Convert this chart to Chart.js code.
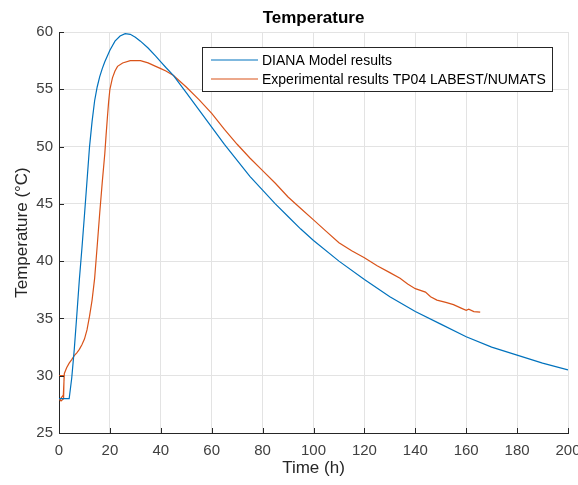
<!DOCTYPE html>
<html>
<head>
<meta charset="utf-8">
<script src="https://cdn.jsdelivr.net/npm/chart.js@4.4.1/dist/chart.umd.min.js"></script>
<style>
  html, body { margin: 0; padding: 0; background: #fff; }
</style>
</head>
<body>
<canvas id="tempChart" width="578" height="485"></canvas>
<script>
const chartTitle = 'Temperature';
const xLabel = 'Time (h)';
const yLabel = 'Temperature (°C)';
const seriesNames = ['DIANA Model results', 'Experimental results TP04 LABEST/NUMATS'];
const seriesColors = ['#0072BD', '#D95319'];
const xTicks = [0, 20, 40, 60, 80, 100, 120, 140, 160, 180, 200];
const yTicks = [25, 30, 35, 40, 45, 50, 55, 60];

// DIANA model
const modelTime = [0, 4, 5, 6, 7, 8, 9, 10, 11, 12, 13, 14, 15, 16, 17, 18, 20, 22, 24, 26, 28, 30, 32, 35, 38, 40, 42, 45,
  50, 55, 60, 65, 70, 75, 80, 85, 90, 95, 100, 110, 120, 130, 140, 150, 160, 170, 180, 190, 200];
const modelTemp = [28, 28, 29.8, 32.3, 35.3, 38.4, 41.1, 44.0, 47.0, 50.0, 52.2, 54.0, 55.2, 56.1, 56.8, 57.4, 58.4, 59.2, 59.65, 59.85, 59.8, 59.55, 59.2, 58.6, 57.9, 57.4, 56.9, 56.2,
  54.7, 53.2, 51.7, 50.2, 48.8, 47.4, 46.2, 45.0, 43.9, 42.8, 41.8, 40.0, 38.4, 36.9, 35.6, 34.5, 33.4, 32.5, 31.8, 31.1, 30.5];

// experimental TP04
const expTime = [0, 2, 1.8, 0.8, 0.3, 1.0, 1.7, 2.1, 3, 4, 5, 6, 7, 8, 9, 10, 11, 12, 13, 14, 15, 16, 17, 18, 18.5, 19, 19.5, 20, 21, 22, 23, 25, 28, 32, 35, 38, 40, 42, 45,
  50, 55, 60, 65, 70, 75, 80, 85, 90, 95, 100, 105, 110, 115, 120, 125, 130, 134, 137, 140, 144, 146, 148.5, 152, 155, 158, 160, 161, 163, 165.5];
const expTemp = [30, 30, 28.0, 27.8, 27.9, 28.1, 28.3, 30.2, 30.7, 31.1, 31.4, 31.75, 32.0, 32.3, 32.7, 33.2, 34.0, 35.2, 36.6, 38.5, 41.3, 44.2, 46.9, 49.4, 51.0, 52.5, 53.9, 55.0, 56.0, 56.6, 57.0, 57.3, 57.5, 57.5, 57.3, 57.0, 56.8, 56.6, 56.2,
  55.2, 54.1, 52.9, 51.5, 50.2, 49.0, 47.9, 46.8, 45.6, 44.6, 43.6, 42.6, 41.6, 40.9, 40.3, 39.6, 39.0, 38.5, 38.0, 37.6, 37.3, 36.9, 36.6, 36.4, 36.2, 35.9, 35.7, 35.8, 35.6, 35.55];

const fontFamily = "'Liberation Sans', Arial, Helvetica, sans-serif";
const axisColor = '#262626';

function toPoints(xs, ys) {
  return xs.map((x, i) => ({ x: x, y: ys[i] }));
}

const matlabStyle = {
  id: 'matlabStyle',
  afterDraw(chart) {
    const ctx = chart.ctx;
    const area = chart.chartArea;
    const xs = chart.scales.x;
    const ys = chart.scales.y;

    // inward ticks
    ctx.save();
    ctx.strokeStyle = axisColor;
    ctx.lineWidth = 1;
    ctx.beginPath();
    xTicks.forEach(v => {
      const px = Math.round(xs.getPixelForValue(v)) + 0.5;
      ctx.moveTo(px, area.bottom);
      ctx.lineTo(px, area.bottom - 5);
    });
    yTicks.forEach(v => {
      const py = Math.round(ys.getPixelForValue(v)) + 0.5;
      ctx.moveTo(area.left, py);
      ctx.lineTo(area.left + 5, py);
    });
    ctx.stroke();

    // title
    ctx.fillStyle = '#000';
    ctx.font = 'bold 17px ' + fontFamily;
    ctx.textAlign = 'center';
    ctx.textBaseline = 'alphabetic';
    ctx.fillText(chartTitle, (area.left + area.right) / 2, 23);

    // legend box
    ctx.font = '14px ' + fontFamily;
    let textW = 0;
    seriesNames.forEach(n => { textW = Math.max(textW, ctx.measureText(n).width); });
    const boxW = Math.round(9 + 47 + 4 + textW + 6);
    const boxH = 44;
    const boxRight = Math.round(area.right - 16);
    const boxLeft = boxRight - boxW;
    const boxTop = Math.round(area.top + 15);
    ctx.fillStyle = '#fff';
    ctx.fillRect(boxLeft, boxTop, boxW, boxH);
    ctx.strokeStyle = axisColor;
    ctx.strokeRect(boxLeft + 0.5, boxTop + 0.5, boxW, boxH);
    ctx.textAlign = 'left';
    ctx.textBaseline = 'middle';
    seriesNames.forEach((n, i) => {
      const rowY = boxTop + 13 + i * 19;
      ctx.strokeStyle = seriesColors[i];
      ctx.lineWidth = 1.2;
      ctx.beginPath();
      ctx.moveTo(boxLeft + 9, rowY);
      ctx.lineTo(boxLeft + 56, rowY);
      ctx.stroke();
      ctx.fillStyle = '#000';
      ctx.fillText(n, boxLeft + 60, rowY + 1);
    });
    ctx.restore();
  }
};

new Chart(document.getElementById('tempChart'), {
  type: 'scatter',
  data: {
    datasets: [{
      label: seriesNames[0],
      data: toPoints(modelTime, modelTemp),
      borderColor: seriesColors[0],
      backgroundColor: seriesColors[0],
      borderWidth: 1.2,
      showLine: true,
      pointRadius: 0,
      tension: 0
    }, {
      label: seriesNames[1],
      data: toPoints(expTime, expTemp),
      borderColor: seriesColors[1],
      backgroundColor: seriesColors[1],
      borderWidth: 1.2,
      showLine: true,
      pointRadius: 0,
      tension: 0
    }]
  },
  options: {
    responsive: false,
    animation: false,
    layout: { padding: { top: 32, right: 10, bottom: 0, left: 0 } },
    plugins: {
      legend: { display: false },
      title: { display: false },
      tooltip: { enabled: false }
    },
    scales: {
      x: {
        type: 'linear',
        min: xTicks[0],
        max: xTicks[xTicks.length - 1],
        ticks: {
          stepSize: 20,
          padding: 9,
          color: '#404040',
          font: { family: fontFamily, size: 15 },
          maxRotation: 0
        },
        grid: { color: '#e3e3e3', drawTicks: false },
        border: { display: true, color: axisColor, width: 1 },
        title: {
          display: true,
          text: xLabel,
          color: '#262626',
          font: { family: fontFamily, size: 17 },
          padding: { top: 0, bottom: 6 }
        },
        afterFit(scale) {
          scale.height = 52;
          scale.paddingRight = 0;
          scale.paddingLeft = 0;
        }
      },
      y: {
        type: 'linear',
        min: yTicks[0],
        max: yTicks[yTicks.length - 1],
        ticks: {
          stepSize: 5,
          padding: 6,
          color: '#404040',
          font: { family: fontFamily, size: 15 }
        },
        grid: { color: '#e3e3e3', drawTicks: false },
        border: { display: true, color: axisColor, width: 1 },
        title: {
          display: true,
          text: yLabel,
          color: '#262626',
          font: { family: fontFamily, size: 17 },
          padding: { top: 12, bottom: 0 }
        },
        afterFit(scale) {
          scale.width = 59;
          scale.paddingTop = 0;
          scale.paddingBottom = 0;
        }
      }
    }
  },
  plugins: [matlabStyle]
});
</script>
</body>
</html>
